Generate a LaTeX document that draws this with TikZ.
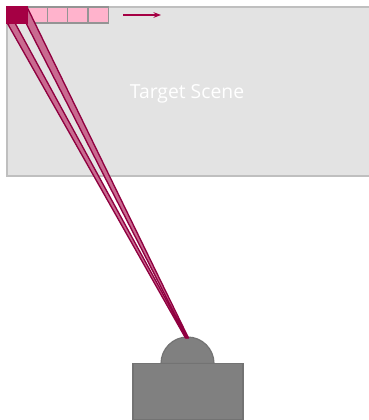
\documentclass[tikz,border=0pt]{standalone}
\usepackage{fontspec}
\setmainfont{Open Sans}
\usetikzlibrary{positioning, arrows.meta}
\definecolor{crimson}{HTML}{A50044}
\definecolor{beamedge}{HTML}{900040}
\definecolor{beamfill}{HTML}{C96A90}
\definecolor{pixpink}{HTML}{FFB3CC}
\begin{document}
\begin{tikzpicture}[
    x=0.75pt, y=-0.75pt,
    scene/.style={draw=black!25, line width=1.5pt, fill=black!11, outer sep=0pt, minimum width=276pt, minimum height=126.5pt, inner sep=0pt},
    pixel/.style={draw=black!42, line width=0.9pt, fill=pixpink, outer sep=0pt, minimum width=15.2pt, minimum height=12pt, inner sep=0pt},
    hotpixel/.style={pixel, fill=crimson, draw=crimson},
    beam/.style={draw=beamedge, line width=1pt, line join=round, fill=beamfill},
    body/.style={draw=black!55, line width=0.9pt, fill=black!50, outer sep=0pt},
    >={Stealth[length=2mm]},
  ]
    \useasboundingbox (0,0) rectangle (368,420);
    \node[scene, anchor=north west] (target) at (6.5,7) {};
    \node[font=\fontsize{14.5}{16}\selectfont, text=white] (label) at (187,93.5) {Target Scene};
    \node[pixel, anchor=north west] (p1) at (27.2,7) {};
    \node[pixel, right=0pt of p1] (p2) {};
    \node[pixel, right=0pt of p2] (p3) {};
    \node[pixel, right=0pt of p3] (p4) {};
    \coordinate (sweepa) at (123,15);
    \coordinate (sweepb) at (161,15);
    \draw[->, crimson, line width=0.8pt] (sweepa) -- (sweepb);
    % camera
    \draw[body] (161,363.5) arc[start angle=180, end angle=360, radius=26.5] -- cycle;
    \node[body, anchor=north west, minimum width=82.5pt, minimum height=42pt, inner sep=0pt] (camera) at (133,363.5) {};
    \coordinate (apex) at (187,338);
    \coordinate (apexl) at (185.5,338);
    \coordinate (apexr) at (188.5,338);
    % beams
    \draw[beam] (7.5,23.5) -- (15,23) -- (apex) -- (apexl) -- cycle;
    \draw[beam] (27,7) -- (26,23) -- (apex) -- (apexr) -- cycle;
    \node[hotpixel, left=0pt of p1] (p0) {};
\end{tikzpicture}
\end{document}
